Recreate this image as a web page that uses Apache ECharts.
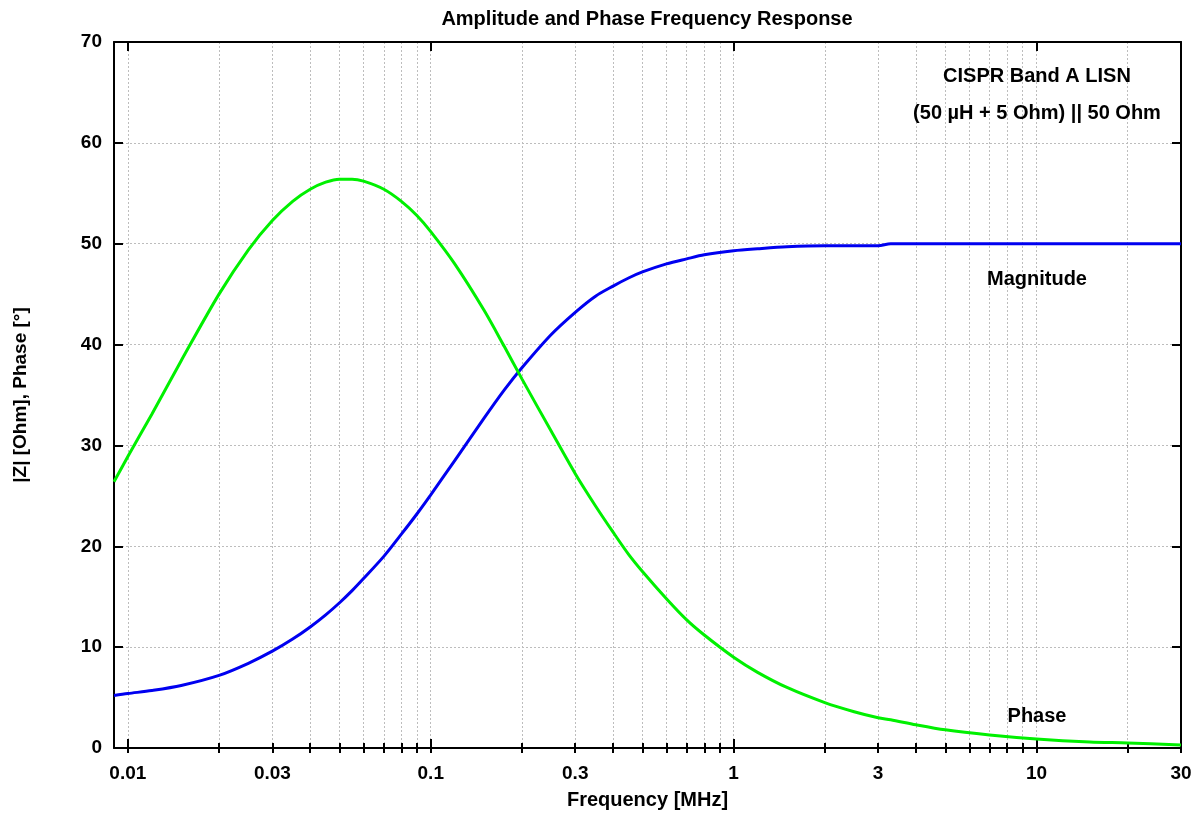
<!DOCTYPE html>
<html style="height: 100%">
<head>
    <meta charset="utf-8">
</head>
<body style="height: 100%; margin: 0; background: #fff">
    <div id="container" style="width: 1201px; height: 817px"></div>
    <script src="https://cdn.jsdelivr.net/npm/echarts@6/dist/echarts.min.js"></script>
    <script type="text/javascript">
// frequency in MHz
var freqs = [0.009, 0.01, 0.012, 0.015, 0.02, 0.025, 0.03, 0.035, 0.04, 0.045, 0.05, 0.055, 0.06, 0.07, 0.08, 0.09,
    0.1, 0.12, 0.15, 0.175, 0.2, 0.25, 0.3, 0.35, 0.4, 0.45, 0.5, 0.6, 0.7, 0.8,
    1, 1.2, 1.5, 2, 2.5, 3, 3.3, 4, 5, 7, 10, 15, 20, 30];
var magnitude = [5.2, 5.4, 5.7, 6.2, 7.2, 8.4, 9.6, 10.8, 12.0, 13.2, 14.4, 15.6, 16.8, 19.0, 21.2, 23.2,
    25.1, 28.5, 32.7, 35.5, 37.7, 41.0, 43.2, 44.8, 45.8, 46.6, 47.2, 48.0, 48.5, 48.9,
    49.3, 49.5, 49.7, 49.8, 49.8, 49.8, 50.0, 50.0, 50.0, 50.0, 50.0, 50.0, 50.0, 50.0];
var phase = [26.4, 28.9, 33.1, 38.4, 45.0, 49.4, 52.3, 54.2, 55.4, 56.1, 56.4, 56.4, 56.2, 55.4, 54.2, 52.8,
    51.2, 48.0, 43.4, 39.8, 36.6, 31.4, 27.2, 24.0, 21.4, 19.2, 17.5, 14.8, 12.7, 11.2,
    9.0, 7.5, 6.0, 4.5, 3.6, 3.0, 2.8, 2.3, 1.8, 1.3, 0.9, 0.6, 0.5, 0.3];

var xMin = 0.009, xMax = 30;
var xLabels = [0.01, 0.03, 0.1, 0.3, 1, 3, 10, 30];
var xMajor = [0.01, 0.1, 1, 10];
var xGrid = [0.01, 0.02, 0.03, 0.04, 0.05, 0.06, 0.07, 0.08, 0.09,
    0.1, 0.2, 0.3, 0.4, 0.5, 0.6, 0.7, 0.8, 0.9,
    1, 2, 3, 4, 5, 6, 7, 8, 9, 10, 20, 30];

var font = "'Liberation Sans', Arial, sans-serif";
var lg = function (v) { return Math.log10(v); };
var pairs = function (ys) { return freqs.map(function (f, i) { return [lg(f), ys[i]]; }); };

var dom = document.getElementById('container');
var myChart = echarts.init(dom, null, {renderer: 'canvas'});

var xBase = {
    type: 'value',
    min: lg(xMin),
    max: lg(xMax),
    axisLine: {show: false},
    axisLabel: {show: false},
    splitLine: {show: false},
    axisTick: {show: true, inside: true, length: 5, lineStyle: {color: '#000', width: 2}}
};
function xAxisDef(extra) {
    return echarts.util.merge(echarts.util.clone(xBase), extra, true);
}
function note(text, x, y, size) {
    return {type: 'text', x: x, y: y, z: 10,
        style: {text: text, font: 'bold ' + size + 'px ' + font, fill: '#000', align: 'center', verticalAlign: 'middle'}};
}

var option = {
    animation: false,
    backgroundColor: '#fff',
    textStyle: {fontFamily: font},
    grid: {left: 114, right: 20, top: 42, bottom: 69, containLabel: false, outerBoundsMode: 'none'},
    graphic: [
        note('Amplitude and Phase Frequency Response', 647, 19, 20),
        note('CISPR Band A LISN', 1037, 76, 20),
        note('(50 µH + 5 Ohm) || 50 Ohm', 1037, 113, 20),
        note('Magnitude', 1037, 279, 20),
        note('Phase', 1037, 716, 20)
    ],
    xAxis: [
        // bottom, major ticks + labels + frame line
        xAxisDef({
            position: 'bottom',
            name: 'Frequency [MHz]',
            nameLocation: 'middle',
            nameGap: 42,
            nameTextStyle: {fontSize: 20, fontWeight: 'bold', color: '#000', fontFamily: font},
            axisLine: {show: true, onZero: false, lineStyle: {color: '#000', width: 2}},
            axisTick: {length: 9, customValues: xMajor.map(lg)},
            axisLabel: {
                show: true, margin: 16, fontSize: 19, fontWeight: 'bold', color: '#000', fontFamily: font,
                customValues: xLabels.map(lg),
                formatter: function (v) { return String(+Math.pow(10, v).toPrecision(2)); }
            }
        }),
        // bottom, minor ticks + grid
        xAxisDef({
            position: 'bottom',
            axisTick: {customValues: xGrid.map(lg)},
            splitLine: {show: true, lineStyle: {color: '#bdbdbd', width: 1, type: [2, 2]}}
        }),
        // top, mirrored
        xAxisDef({
            position: 'top',
            axisLine: {show: true, onZero: false, lineStyle: {color: '#000', width: 2}},
            axisTick: {length: 9, customValues: xMajor.map(lg)}
        }),
        xAxisDef({
            position: 'top',
            axisTick: {customValues: xGrid.map(lg)}
        })
    ],
    yAxis: [
        {
            type: 'value',
            position: 'left',
            min: 0,
            max: 70,
            interval: 10,
            name: '|Z| [Ohm], Phase [°]',
            nameLocation: 'middle',
            nameGap: 84,
            nameTextStyle: {fontSize: 19, fontWeight: 'bold', color: '#000', fontFamily: font},
            axisLine: {show: true, onZero: false, lineStyle: {color: '#000', width: 2}},
            axisTick: {show: true, inside: true, length: 9, lineStyle: {color: '#000', width: 2}},
            axisLabel: {margin: 12, fontSize: 19, fontWeight: 'bold', color: '#000', fontFamily: font},
            splitLine: {show: true, lineStyle: {color: '#bdbdbd', width: 1, type: [2, 2]}}
        },
        {
            type: 'value',
            position: 'right',
            min: 0,
            max: 70,
            interval: 10,
            axisLine: {show: true, onZero: false, lineStyle: {color: '#000', width: 2}},
            axisTick: {show: true, inside: true, length: 9, lineStyle: {color: '#000', width: 2}},
            axisLabel: {show: false},
            splitLine: {show: false}
        }
    ],
    series: [
        {
            name: 'Magnitude',
            type: 'line',
            xAxisIndex: 0,
            yAxisIndex: 0,
            data: pairs(magnitude),
            showSymbol: false,
            smooth: 0.3,
            lineStyle: {color: '#0000f0', width: 3},
            itemStyle: {color: '#0000f0'}
        },
        {
            name: 'Phase',
            type: 'line',
            xAxisIndex: 0,
            yAxisIndex: 0,
            data: pairs(phase),
            showSymbol: false,
            smooth: 0.3,
            lineStyle: {color: '#00f000', width: 3},
            itemStyle: {color: '#00f000'}
        }
    ]
};
myChart.setOption(option);
    </script>
</body>
</html>
